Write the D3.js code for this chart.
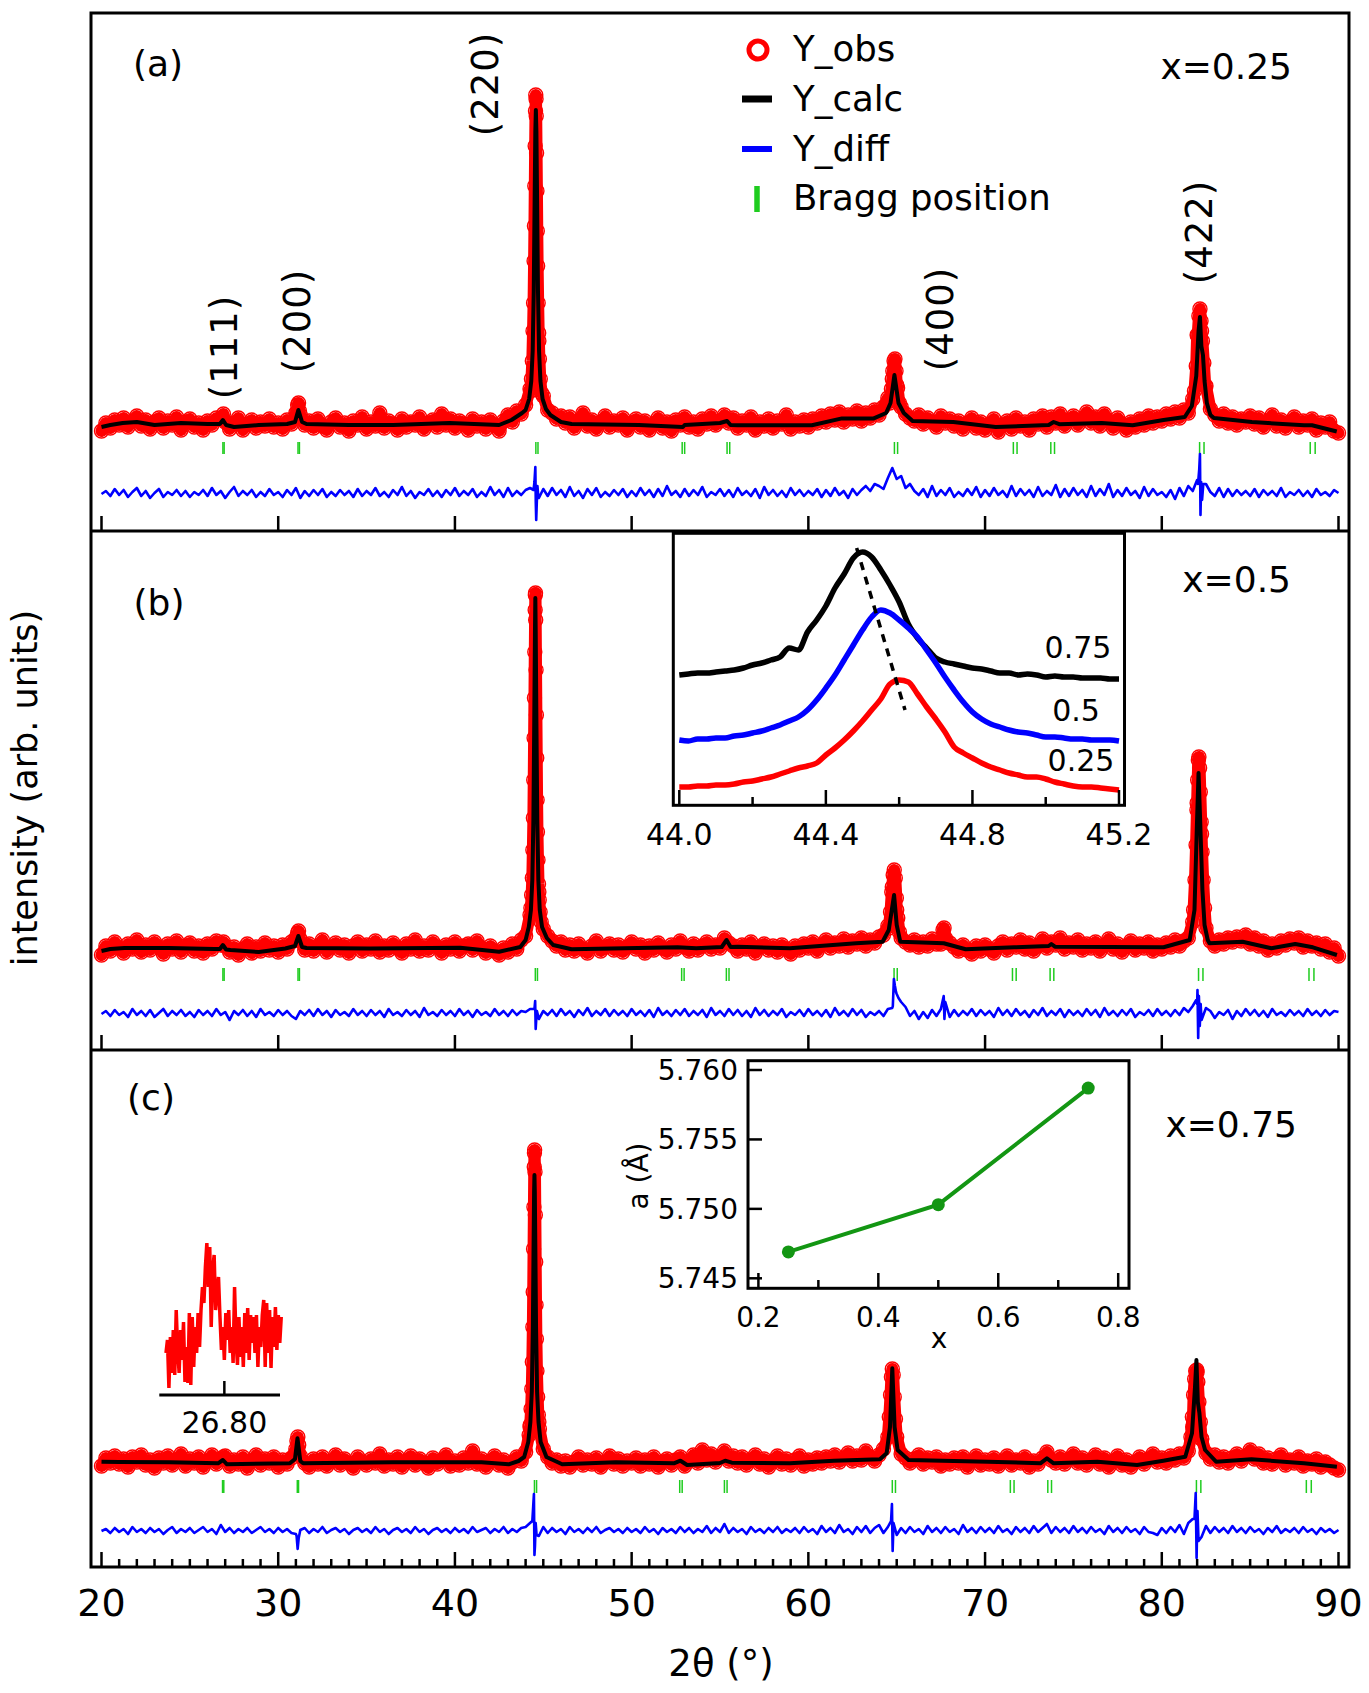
<!DOCTYPE html>
<html>
<head>
<meta charset="utf-8">
<script src="https://cdn.jsdelivr.net/npm/d3@7"></script>
<style>
body { margin: 0; background: #fff; }
text { font-family: "DejaVu Sans", sans-serif; fill: #000; }
</style>
</head>
<body>
<script>
// observed pattern, 2theta = 20 .. 90 every 0.25 deg (arb. units)
var obsStart = 20, obsStep = 0.25;
var obsA = [
100,108,103,111,106,113,104,110,115,105,111,102,109,113,103,110,106,114,101,109,
112,104,108,101,110,106,113,112,109,102,108,113,101,107,111,103,109,105,112,104,
108,102,111,107,118,116,106,110,103,112,105,101,109,113,104,108,100,110,106,114,
102,109,105,118,103,110,107,101,112,104,109,106,114,102,108,111,104,117,106,112,
103,110,107,101,112,105,109,102,111,106,100,110,116,109,120,117,126,142,305,190,
135,121,118,112,115,108,114,103,110,118,105,111,102,109,115,104,110,106,113,101,
108,112,104,110,101,107,113,103,109,100,111,106,114,104,109,102,112,107,115,106,
110,116,108,113,103,110,106,114,101,109,105,112,103,110,107,116,102,109,105,111,
104,112,108,115,109,117,111,119,109,116,112,120,110,118,113,121,116,124,133,152,
146,124,117,113,110,116,107,113,109,104,115,108,112,105,110,102,108,113,103,109,
101,107,112,99,106,110,102,113,105,109,101,112,107,115,104,114,108,117,105,111,
115,106,112,119,108,114,105,117,110,103,113,107,101,109,104,112,106,115,108,114,
110,117,112,119,113,121,118,132,196,200,145,122,116,110,117,108,114,106,112,109,
115,107,113,104,110,116,105,111,103,109,114,104,110,106,112,101,108,104,109,100,
98];
var obsB = [
95,104,99,108,102,97,106,101,110,98,105,100,108,103,96,106,101,109,98,104,
107,99,104,97,106,101,109,105,104,98,103,95,101,106,97,103,99,107,100,104,
98,105,101,108,112,110,100,106,99,104,110,98,103,107,100,105,97,104,108,99,
105,101,109,98,104,100,107,102,97,106,101,110,99,104,100,108,103,97,105,101,
108,99,104,106,100,109,102,97,104,99,95,102,98,106,101,110,114,140,352,158,
121,114,109,104,108,100,105,99,106,101,97,104,109,99,103,106,100,105,98,103,
108,101,105,97,104,100,107,102,98,105,101,109,103,99,106,100,104,108,101,105,
102,112,107,104,99,105,101,108,97,103,106,100,104,98,105,101,96,104,100,106,
102,108,99,105,110,102,107,104,111,103,109,106,112,104,110,107,113,115,124,163,
140,112,108,105,110,103,108,104,111,106,106,112,107,103,99,105,100,96,104,99,
105,101,97,104,108,100,106,103,110,101,107,99,104,111,102,108,105,112,101,107,
103,110,100,106,102,108,99,105,111,101,106,98,104,109,100,106,102,108,99,105,
101,107,103,110,104,109,112,128,247,216,122,109,104,110,106,112,108,113,109,115,
106,112,104,109,100,106,102,109,105,111,107,112,103,109,104,107,101,106,98,102,
94];
var obsC = [
101,109,104,111,103,108,100,110,105,112,102,107,99,109,104,111,102,107,113,101,
108,104,110,100,106,112,103,108,111,101,107,103,110,99,106,112,102,108,104,110,
100,107,103,109,118,111,104,100,108,103,110,101,106,112,102,108,104,99,110,105,
102,108,104,113,101,107,103,110,100,106,111,102,108,104,99,109,103,107,112,101,
106,102,109,104,116,103,108,100,106,111,102,107,99,105,110,106,115,140,414,145,
118,110,104,107,101,106,100,105,110,102,107,103,109,100,105,111,103,108,101,106,
104,109,101,107,103,110,100,105,108,102,107,110,101,106,112,104,117,107,113,105,
110,116,106,111,104,110,102,107,112,103,108,100,106,111,103,108,102,107,111,101,
107,103,109,104,110,106,112,105,109,114,106,111,107,116,110,106,112,118,130,198,
125,113,109,104,108,112,103,109,105,110,101,107,103,109,104,110,100,106,111,102,
107,103,109,101,106,111,102,107,104,110,100,106,103,109,115,107,104,110,103,108,
113,104,109,102,107,112,103,109,100,106,111,102,107,100,105,110,103,108,113,105,
109,104,111,107,113,109,116,140,195,128,114,108,112,105,110,104,109,113,106,111,
117,108,113,104,109,103,108,112,102,107,104,110,101,106,103,108,100,105,102,99,
97];

// observed points on the Bragg peaks [2theta, I]
var obsPeaksA = [[26.85,113],[26.9,117],[31.05,118],[31.1,126],[31.15,128],[31.2,120],
[44.28,140],[44.33,152],[44.38,170],[44.42,200],[44.45,228],[44.48,270],[44.5,305],[44.52,345],[44.54,385],[44.56,420],[44.575,436],
[44.59,432],[44.6,415],[44.62,378],[44.64,340],[44.66,300],[44.68,265],[44.71,228],[44.74,198],[44.78,172],[44.83,152],[44.9,138],
[64.6,128],[64.7,142],[64.78,160],[64.85,170],[64.9,172],[64.96,160],[65.05,143],[65.15,128],
[81.85,140],[81.95,165],[82.03,195],[82.1,215],[82.16,222],[82.22,210],[82.3,190],[82.38,168],[82.46,145]];
var obsPeaksB = [[26.85,106],[26.9,108],[31.05,110],[31.1,117],[31.15,119],[31.2,112],
[44.25,135],[44.3,142],[44.34,155],[44.38,172],[44.41,200],[44.44,232],[44.46,270],[44.48,312],[44.5,352],[44.52,398],[44.54,440],
[44.55,455],[44.56,457],[44.57,430],[44.59,380],[44.61,335],[44.63,292],[44.65,250],[44.67,218],[44.7,190],[44.73,166],[44.77,150],[44.82,138],[44.88,128],
[64.55,122],[64.65,138],[64.72,158],[64.8,175],[64.86,180],[64.92,172],[64.98,152],[65.06,132],[65.15,118],
[67.62,120],[67.68,122],
[81.8,140],[81.88,170],[81.94,205],[81.99,240],[82.03,270],[82.07,290],[82.1,293],[82.14,282],[82.18,258],[82.23,228],[82.28,198],[82.34,170],[82.42,142],[82.5,122]];
var obsPeaksC = [[26.85,108],[26.9,110],[31.0,118],[31.06,126],[31.11,130],[31.16,122],
[44.2,132],[44.26,142],[44.31,158],[44.35,178],[44.38,205],[44.41,240],[44.43,275],[44.45,318],[44.47,360],[44.49,400],[44.5,414],
[44.51,417],[44.53,395],[44.55,352],[44.57,305],[44.59,262],[44.61,228],[44.64,196],[44.68,170],[44.72,152],[44.78,138],
[64.5,130],[64.58,150],[64.65,172],[64.7,190],[64.75,198],[64.8,192],[64.86,170],[64.93,148],[65.0,130],
[81.65,130],[81.73,150],[81.8,172],[81.86,188],[81.92,196],[81.98,197],[82.04,185],[82.1,165],[82.18,145],[82.26,128]];

// calculated profile [2theta, I]
var calcA = [[20,104],[20.5,106],[21.2,108],[22,109],[23,106],[24.5,108],[26,107],[26.7,107],[26.87,111],[27.05,106],[27.5,104],
[28.9,106],[30.5,107],[30.95,109],[31.14,121],[31.35,109],[31.6,107],[34,106],[36.5,106],[39.7,108],[42.5,106],[43.2,111],[43.8,118],
[44,121],[44.2,132],[44.32,150],[44.4,180],[44.46,240],[44.51,330],[44.55,400],[44.58,421],[44.61,400],[44.65,330],[44.7,240],
[44.76,180],[44.84,150],[44.96,132],[45.15,122],[45.4,116],[46,109],[46.6,107],[50.4,106],[52.9,104],[53,106],[55,108],[55.4,110],
[55.6,106],[56,105.7],[60.2,105.7],[61.9,112.6],[63.7,112.6],[64.4,118],[64.65,128],[64.87,156],[65.1,128],[65.4,118],[65.9,110],
[68.2,109],[70.6,104],[73.6,106],[73.88,109],[74.2,106.8],[76.6,108],[78.35,105.7],[80.1,111],[81.3,114],[81.7,125],[81.95,155],
[82.08,200],[82.16,214],[82.24,185],[82.33,176],[82.42,150],[82.55,128],[82.75,116],[82.95,113],[85.1,109],[88.05,105.7],[88.5,105.7],[89.9,99.5]];
var calcB = [[20,99],[20.5,101],[21.3,102],[23.8,102],[26.4,101],[26.7,101],[26.87,105],[27.05,100.5],[27.3,100],[28.9,98],[30.4,101.5],
[30.95,104],[31.14,114],[31.35,103],[31.6,102],[35.2,101.5],[40.3,102.3],[42.5,98.3],[43.7,103],[44,110],[44.18,123],[44.3,140],
[44.38,170],[44.44,230],[44.49,330],[44.53,420],[44.55,452],[44.57,420],[44.61,330],[44.66,230],[44.72,170],[44.8,140],[44.93,123],
[45.2,112],[45.56,105],[46.6,100.7],[52.6,102.7],[53.65,101.7],[55.1,103],[55.37,110],[55.6,103],[56,103.3],[58.95,101.7],[62.7,106.7],
[64.2,108.3],[64.55,120],[64.85,155],[65,125],[65.2,108.3],[67.66,106.7],[68.9,100.7],[71.64,102.7],[73.6,104],[73.75,106],[73.95,103.3],
[80.1,102.7],[81.58,110],[81.85,140],[81.98,220],[82.08,277],[82.18,225],[82.3,160],[82.42,125],[82.6,110],[82.7,106.7],[84.57,108.3],
[86.2,101.7],[87.55,106],[88.55,102.7],[89.91,95]];
var calcC = [[20,105.3],[21,105],[23.84,104.7],[26.6,103.7],[26.87,107],[27.1,102.7],[30.66,103.7],[30.95,108],[31.09,128.7],[31.25,106],
[31.41,103.7],[36.5,104.7],[41.5,104.7],[43.04,102.7],[43.6,106],[43.92,110],[44.15,125],[44.27,145],[44.35,175],[44.41,240],[44.45,320],
[44.48,375],[44.5,392],[44.52,375],[44.55,320],[44.59,240],[44.65,175],[44.73,145],[44.85,125],[45.18,110],[46.07,102.7],[49.1,104.7],
[52.39,103.7],[52.76,106.3],[53.14,102],[55,104],[55.29,106.3],[55.67,104.3],[58.95,103.7],[61.44,106.3],[64.05,107.7],[64.43,113.7],
[64.62,140],[64.75,198.7],[64.88,140],[65.05,117],[65.67,107],[70.15,105.3],[73.13,103.7],[73.5,108.7],[73.88,103.7],[76.36,105.3],
[78.6,102],[80.09,106.3],[81.33,110.3],[81.71,133.7],[81.88,180],[81.96,207],[82.04,165],[82.13,153.7],[82.25,130],[82.45,117],
[83.07,105.3],[85.07,107.7],[88.05,103.7],[89.91,100.3]];

// difference Yobs - Ycalc, same 0.25 deg grid
var diffA = [
0,3,-2,5,-1,4,-3,2,6,-2,3,-4,1,5,-3,2,-1,4,-2,3,
-3,2,-1,4,-2,6,-1,3,-4,2,7,-2,3,-1,4,-3,2,-2,5,-1,
2,-3,4,-1,6,-4,3,-2,4,-1,5,-3,2,-2,4,-1,3,-3,5,-2,
3,-1,6,-2,2,-3,4,-1,7,-2,3,-4,2,-1,5,-2,3,-3,4,-1,
6,-2,3,-1,5,-3,2,-2,7,-1,4,-3,6,-2,3,-1,4,6,2,-4,
5,-2,6,-1,4,-3,7,-2,3,-4,5,-1,6,-3,2,-2,4,-1,5,-3,
3,-2,6,-1,4,-3,5,-2,8,-1,3,-3,5,-2,4,-1,7,-3,2,-1,
5,-2,4,-3,6,-1,3,-2,5,-4,7,-1,4,-2,3,-3,6,-1,4,-2,
3,-1,5,-3,4,-2,6,-1,3,-4,5,-1,4,8,3,10,8,5,16,26,
15,18,6,10,3,-1,5,-3,8,-2,4,-1,6,-3,2,-2,5,-1,7,-3,
4,-2,6,-1,3,-3,8,-2,5,-1,4,-3,7,-2,3,-1,9,-3,5,-2,
6,-1,4,-3,8,-2,5,-1,10,-3,4,-2,6,-1,3,-4,7,-2,5,-1,
2,-3,4,-5,6,-2,8,3,14,6,10,2,-2,6,-3,5,-2,4,-1,3,
-2,5,-3,4,-1,3,-2,6,-3,2,-1,4,-2,3,-3,5,-1,2,-2,4,
1];
var diffB = [
0,3,-2,4,-1,2,-3,5,-1,3,-2,4,-3,1,5,-2,3,-1,4,-2,
2,-3,4,-1,3,-2,5,-1,2,-6,3,-1,4,-2,3,-3,5,-1,2,-2,
4,-1,3,-2,-5,3,-1,4,-2,5,-1,3,-3,4,-1,2,-2,5,-1,3,
-2,4,-1,3,-3,5,-1,2,-2,4,-1,3,-3,6,-1,2,-2,4,-1,3,
-2,5,-1,3,-3,4,-1,2,-2,5,-1,3,-2,4,-1,3,2,5,-3,-5,
3,-1,4,-2,5,-1,3,-3,4,-1,6,-2,3,-1,5,-2,4,-1,3,-2,
5,-1,3,-2,4,-3,6,-1,3,-2,4,-1,5,-2,3,-1,4,-3,6,-1,
3,-2,5,-1,4,-2,3,-3,6,-1,4,-2,3,-1,5,-3,2,-1,4,-2,
5,-1,3,-2,4,-3,6,-1,3,-2,5,-1,4,-3,2,-1,3,-2,5,6,
20,12,7,-2,3,-5,2,-4,4,-2,5,12,-3,4,-2,3,-1,5,-2,4,
-1,3,-3,6,-1,4,-2,5,-1,3,-3,4,-1,6,-2,3,-1,5,-3,4,
-1,3,-2,5,-1,4,-3,6,-1,3,-2,4,-1,5,-3,2,-1,4,-2,5,
-1,3,-2,4,-1,6,2,8,10,-6,6,3,-4,2,-1,4,-5,3,-2,5,
-1,4,-2,3,-3,5,-1,2,-2,4,-1,3,-2,5,-1,3,-2,4,-1,3,
2];
var diffC = [
0,2,-2,3,-1,2,-3,4,-1,2,-2,3,-1,2,-3,1,4,-2,2,-1,
3,-2,1,4,-1,2,-3,6,-1,3,-2,2,-1,3,-2,1,4,-1,2,-2,
3,-1,2,-2,-3,1,3,-2,2,-1,4,-2,1,3,-1,2,-3,1,3,-1,
2,-2,4,-1,2,-3,1,3,-1,2,-2,4,-1,2,-3,1,3,-1,2,-2,
3,-1,2,-2,4,-1,1,3,-2,2,-1,4,-2,2,-1,3,4,8,2,-5,
4,-2,3,-1,2,-3,4,-1,2,-2,3,-1,4,-2,1,3,-1,2,-2,3,
-1,2,-2,4,-1,2,-3,3,-1,2,-2,4,-1,3,-2,2,-1,5,-2,3,
-1,7,-2,3,-1,2,-3,4,-1,2,-2,3,-1,4,-2,2,-1,3,-2,4,
-1,2,-3,5,-1,3,-2,6,-1,2,-3,4,-1,5,-2,3,6,-2,4,2,
-4,3,-2,4,-1,2,-3,5,-1,3,-2,4,-1,2,-3,6,-1,3,-2,4,
-1,3,-2,5,-1,2,-3,4,-1,3,-2,5,-1,3,7,-2,4,-1,3,-2,
5,-1,3,-2,4,-1,2,-3,5,-1,3,-2,4,-1,2,-3,4,-1,-2,-4,
3,-2,4,-1,6,-3,8,12,4,-6,5,-2,4,-1,3,-2,5,-1,3,-2,
4,-1,2,-3,3,-1,5,-2,2,-1,3,-2,4,-1,2,-3,3,-1,2,-2,
1];
var diffPeaksA = [[44.45,4],[44.5,12],[44.55,27],[44.575,-8],[44.6,-26],[44.63,-10],[44.67,8],[44.72,-3],
[82.05,10],[82.12,25],[82.16,40],[82.19,-21],[82.23,12],[82.28,-6],[82.35,10]];
var diffPeaksB = [[44.5,5],[44.54,13],[44.57,-15],[44.6,-6],[44.64,3],[64.78,8],[64.84,35],[64.9,28],[64.96,22],[65.1,16],
[67.66,18],[67.7,-5],[81.95,14],[82.02,24],[82.06,-24],[82.1,18],[82.15,-12],[82.2,10]];
var diffPeaksC = [[31.04,-5],[31.1,-18],[31.16,-7],[44.38,10],[44.43,25],[44.47,37],[44.5,-24],[44.53,-15],[44.57,8],[44.62,-4],
[64.68,10],[64.73,27],[64.77,-20],[64.82,8],[81.85,12],[81.92,38],[81.97,-27],[82.02,20],[82.08,-10]];

// Bragg positions (K-alpha1 / K-alpha2)
var braggA = [26.87,26.94,31.12,31.20,44.58,44.70,52.86,53.00,55.40,55.55,64.87,65.05,71.60,71.81,73.72,73.93,82.14,82.39,88.40,88.68];
var braggB = [26.87,26.94,31.12,31.20,44.55,44.67,52.83,52.97,55.36,55.51,64.85,65.03,71.55,71.76,73.68,73.89,82.08,82.33,88.33,88.61];
var braggC = [26.85,26.92,31.08,31.15,44.50,44.62,52.72,52.86,55.25,55.40,64.75,64.93,71.43,71.64,73.55,73.76,81.96,82.21,88.18,88.46];

var panelLabels = ["(a)", "(b)", "(c)"];
var compLabels = ["x=0.25", "x=0.5", "x=0.75"];
var legendLabels = ["Y_obs", "Y_calc", "Y_diff", "Bragg position"];
var hklLabels = ["(111)", "(200)", "(220)", "(400)", "(422)"];
var xTicks = [20, 30, 40, 50, 60, 70, 80, 90];

// (220) inset, 44.0 .. 45.2 every 0.025 deg
var insStart = 44.0, insStep = 0.025;
var ins075 = [130,131,132,132,133,134,135,137,140,142,145,148,157,155,173,185,199,217,231,247,
253,248,235,220,203,181,167,157,147,143,141,139,137,136,134,132,132,130,131,130,128,129,128,128,127,127,127,126,126];
var ins050 = [65,64,66,66,67,67,69,70,72,74,77,80,84,88,95,105,117,130,145,160,
175,188,195,192,185,177,168,155,142,128,115,103,93,86,81,78,75,73,72,70,68,68,67,66,66,65,65,65,64];
var ins025 = [18,18,19,19,20,20,21,23,24,26,28,31,34,37,39,42,50,57,65,74,
84,95,106,121,125,123,111,98,86,73,58,52,47,42,38,35,32,30,28,28,26,23,21,19,18,18,17,16,15];
var insLabels = ["0.75", "0.5", "0.25"];
var insTicks = [44.0, 44.2, 44.4, 44.6, 44.8, 45.0, 45.2];
var shiftX = [44.484, 44.616], shiftY = [257, 95];

// lattice parameter inset
var latX = [0.25, 0.5, 0.75];
var latA = [5.7469, 5.7503, 5.7587];
var latErr = [0.0001, 0.0004, 0.0002];
var latXTicks = [0.2, 0.3, 0.4, 0.5, 0.6, 0.7, 0.8];
var latYTicks = [5.745, 5.750, 5.755, 5.760];

// weak (111) reflection, x=0.75
var smStart = 26.56, smStep = 0.006;
var smRed = [42,55,7,58,22,65,20,85,45,22,65,35,73,13,48,12,82,10,78,28,68,42,82,48,85,108,92,128,152,108,
148,68,125,140,85,102,118,78,45,68,35,82,55,85,42,68,32,108,55,30,78,38,68,28,82,42,87,35,80,52,
78,42,80,28,68,48,80,95,28,92,42,85,27,78,48,88,45,80,52,78];

var svg = d3.select("body").append("svg")
    .attr("width", 1369)
    .attr("height", 1693);

var frameL = 91, frameR = 1349;
var tops = [13, 531, 1050], bots = [531, 1050, 1567];
var x = d3.scaleLinear().domain([20, 90]).range([101.5, 1338.5]);

function merged(vals, start, step, extra) {
    var m = new Map();
    vals.forEach(function(v, i) {
        var t = start + i * step;
        m.set(t.toFixed(3), [t, v]);
    });
    extra.forEach(function(p) { m.set(p[0].toFixed(3), p); });
    return Array.from(m.values()).sort(function(a, b) { return a[0] - b[0]; });
}

var panels = [
    {obs: obsA, obsPk: obsPeaksA, calc: calcA, diff: diffA, diffPk: diffPeaksA, bragg: braggA, off: 37, bl: [77, 89]},
    {obs: obsB, obsPk: obsPeaksB, calc: calcB, diff: diffB, diffPk: diffPeaksB, bragg: braggB, off: 36, bl: [69, 82]},
    {obs: obsC, obsPk: obsPeaksC, calc: calcC, diff: diffC, diffPk: diffPeaksC, bragg: braggC, off: 36, bl: [74, 87]}
];

panels.forEach(function(p, k) {
    var y = d3.scaleLinear().domain([0, 518]).range([bots[k], bots[k] - 518]);
    var line = d3.line()
        .x(function(d) { return x(d[0]); })
        .y(function(d) { return y(d[1]); });
    var g = svg.append("g");
    var obsPts = merged(p.obs, obsStart, obsStep, p.obsPk);

    g.append("path").datum(obsPts)
        .attr("d", line)
        .attr("fill", "none")
        .attr("stroke", "#ff0000")
        .attr("stroke-width", 12)
        .attr("stroke-linejoin", "round")
        .attr("stroke-linecap", "round");
    g.selectAll("circle.obs")
        .data(obsPts)
        .enter().append("circle")
        .attr("class", "obs")
        .attr("cx", function(d) { return x(d[0]); })
        .attr("cy", function(d) { return y(d[1]); })
        .attr("r", 7)
        .attr("fill", "none")
        .attr("stroke", "#ff0000")
        .attr("stroke-width", 1.4);

    g.append("path").datum(p.calc)
        .attr("d", line)
        .attr("fill", "none")
        .attr("stroke", "#000")
        .attr("stroke-width", 4)
        .attr("stroke-linejoin", "round");

    g.selectAll("line.bragg")
        .data(p.bragg)
        .enter().append("line")
        .attr("class", "bragg")
        .attr("x1", function(d) { return x(d); })
        .attr("x2", function(d) { return x(d); })
        .attr("y1", y(p.bl[0]))
        .attr("y2", y(p.bl[1]))
        .attr("stroke", "#1fcc1f")
        .attr("stroke-width", 1.5);

    var diffPts = merged(p.diff, obsStart, obsStep, p.diffPk);
    g.append("path").datum(diffPts)
        .attr("d", d3.line()
            .x(function(d) { return x(d[0]); })
            .y(function(d) { return y(d[1] + p.off); }))
        .attr("fill", "none")
        .attr("stroke", "#0000ff")
        .attr("stroke-width", 2.6)
        .attr("stroke-linejoin", "round");

    // bottom axis ticks, pointing up
    var minor = k == 2 ? d3.range(21, 90) : [];
    g.selectAll("line.minor")
        .data(minor.filter(function(d) { return d % 10 != 0; }))
        .enter().append("line")
        .attr("class", "minor")
        .attr("x1", function(d) { return x(d); })
        .attr("x2", function(d) { return x(d); })
        .attr("y1", bots[k])
        .attr("y2", bots[k] - 8)
        .attr("stroke", "#000")
        .attr("stroke-width", 2.5);
    g.selectAll("line.major")
        .data(xTicks)
        .enter().append("line")
        .attr("class", "major")
        .attr("x1", function(d) { return x(d); })
        .attr("x2", function(d) { return x(d); })
        .attr("y1", bots[k])
        .attr("y2", bots[k] - 15)
        .attr("stroke", "#000")
        .attr("stroke-width", 2.5);

    svg.append("text")
        .attr("x", [158, 159, 151][k])
        .attr("y", [76, 615, 1110][k])
        .attr("text-anchor", "middle")
        .attr("font-size", 36)
        .text(panelLabels[k]);
    svg.append("text")
        .attr("x", [1292, 1291, 1297][k])
        .attr("y", [79, 592, 1137][k])
        .attr("text-anchor", "end")
        .attr("font-size", 36)
        .text(compLabels[k]);
});

// frame and panel dividers
svg.append("rect")
    .attr("x", frameL).attr("y", tops[0])
    .attr("width", frameR - frameL).attr("height", bots[2] - tops[0])
    .attr("fill", "none").attr("stroke", "#000").attr("stroke-width", 3);
[531, 1050].forEach(function(yy) {
    svg.append("line")
        .attr("x1", frameL).attr("x2", frameR)
        .attr("y1", yy).attr("y2", yy)
        .attr("stroke", "#000").attr("stroke-width", 3);
});

// hkl labels, panel (a)
var hklPos = [[237, 347], [310, 321], [498, 84], [953, 319], [1212, 232]];
hklLabels.forEach(function(h, i) {
    svg.append("text")
        .attr("transform", "translate(" + hklPos[i][0] + "," + hklPos[i][1] + ") rotate(-90)")
        .attr("text-anchor", "middle")
        .attr("font-size", 37)
        .attr("letter-spacing", 1)
        .text(h);
});

// legend
var lg = svg.append("g");
lg.append("circle").attr("cx", 758).attr("cy", 50).attr("r", 9)
    .attr("fill", "none").attr("stroke", "#ff0000").attr("stroke-width", 5);
lg.append("line").attr("x1", 742).attr("x2", 772).attr("y1", 99).attr("y2", 99)
    .attr("stroke", "#000").attr("stroke-width", 7);
lg.append("line").attr("x1", 742).attr("x2", 772).attr("y1", 149).attr("y2", 149)
    .attr("stroke", "#0000ff").attr("stroke-width", 6);
lg.append("line").attr("x1", 757).attr("x2", 757).attr("y1", 186).attr("y2", 212)
    .attr("stroke", "#1fcc1f").attr("stroke-width", 5.5);
lg.selectAll("text")
    .data(legendLabels)
    .enter().append("text")
    .attr("x", 793)
    .attr("y", function(d, i) { return [61, 111, 161, 210][i]; })
    .attr("font-size", 35.5)
    .text(function(d) { return d; });

// bottom tick labels and titles
svg.selectAll("text.xt")
    .data(xTicks)
    .enter().append("text")
    .attr("class", "xt")
    .attr("x", function(d) { return x(d); })
    .attr("y", 1616)
    .attr("text-anchor", "middle")
    .attr("font-size", 38)
    .text(function(d) { return d; });
svg.append("text")
    .attr("x", 721).attr("y", 1676)
    .attr("text-anchor", "middle")
    .attr("font-size", 37)
    .text("2\u03b8 (\u00b0)");
svg.append("text")
    .attr("transform", "translate(37,788) rotate(-90)")
    .attr("text-anchor", "middle")
    .attr("font-size", 35)
    .text("intensity (arb. units)");

// (220) peak shift inset
var xi = d3.scaleLinear().domain([44.0, 45.2]).range([679.3, 1119]);
var yi = d3.scaleLinear().domain([0, 272]).range([805, 533]);
var gi = svg.append("g");
gi.append("rect").attr("x", 673.3).attr("y", 533.3).attr("width", 451.2).attr("height", 272)
    .attr("fill", "#fff").attr("stroke", "#000").attr("stroke-width", 3);
var insLine = d3.line()
    .x(function(d, i) { return xi(insStart + i * insStep); })
    .y(function(d) { return yi(d); })
    .curve(d3.curveMonotoneX);
[[ins075, "#000"], [ins050, "#0000ff"], [ins025, "#ff0000"]].forEach(function(c) {
    gi.append("path").datum(c[0])
        .attr("d", insLine)
        .attr("fill", "none")
        .attr("stroke", c[1])
        .attr("stroke-width", 5.5)
        .attr("stroke-linejoin", "round");
});
gi.append("line")
    .attr("x1", xi(shiftX[0])).attr("y1", yi(shiftY[0]))
    .attr("x2", xi(shiftX[1])).attr("y2", yi(shiftY[1]))
    .attr("stroke", "#000").attr("stroke-width", 3.5)
    .attr("stroke-dasharray", "8,7");
gi.selectAll("line.it")
    .data(insTicks)
    .enter().append("line")
    .attr("class", "it")
    .attr("x1", function(d) { return xi(d); })
    .attr("x2", function(d) { return xi(d); })
    .attr("y1", 805)
    .attr("y2", function(d, i) { return i % 2 == 0 ? 790 : 797; })
    .attr("stroke", "#000").attr("stroke-width", 2.5);
gi.selectAll("text.itl")
    .data(insTicks.filter(function(d, i) { return i % 2 == 0; }))
    .enter().append("text")
    .attr("class", "itl")
    .attr("x", function(d) { return xi(d); })
    .attr("y", 845)
    .attr("text-anchor", "middle")
    .attr("font-size", 30)
    .text(function(d) { return d.toFixed(1); });
gi.selectAll("text.il")
    .data(insLabels)
    .enter().append("text")
    .attr("class", "il")
    .attr("x", function(d, i) { return [1078, 1076, 1081][i]; })
    .attr("y", function(d, i) { return [658, 721, 771][i]; })
    .attr("text-anchor", "middle")
    .attr("font-size", 30)
    .text(function(d) { return d; });

// lattice parameter inset
var xl = d3.scaleLinear().domain([0.2, 0.8]).range([758.4, 1118.2]);
var yl = d3.scaleLinear().domain([5.745, 5.760]).range([1278.3, 1070]);
var gl = svg.append("g");
gl.append("rect").attr("x", 748).attr("y", 1060.7).attr("width", 381).attr("height", 227.6)
    .attr("fill", "#fff").attr("stroke", "#000").attr("stroke-width", 3);
gl.selectAll("line.lx")
    .data(latXTicks)
    .enter().append("line")
    .attr("class", "lx")
    .attr("x1", function(d) { return xl(d); })
    .attr("x2", function(d) { return xl(d); })
    .attr("y1", 1288.3)
    .attr("y2", function(d, i) { return i % 2 == 0 ? 1273 : 1280; })
    .attr("stroke", "#000").attr("stroke-width", 2.5);
gl.selectAll("line.ly")
    .data(latYTicks)
    .enter().append("line")
    .attr("class", "ly")
    .attr("x1", 748).attr("x2", 762)
    .attr("y1", function(d) { return yl(d); })
    .attr("y2", function(d) { return yl(d); })
    .attr("stroke", "#000").attr("stroke-width", 2.5);
gl.selectAll("text.lxl")
    .data(latXTicks.filter(function(d, i) { return i % 2 == 0; }))
    .enter().append("text")
    .attr("class", "lxl")
    .attr("x", function(d) { return xl(d); })
    .attr("y", 1327)
    .attr("text-anchor", "middle")
    .attr("font-size", 28)
    .text(function(d) { return d.toFixed(1); });
gl.selectAll("text.lyl")
    .data(latYTicks)
    .enter().append("text")
    .attr("class", "lyl")
    .attr("x", 738)
    .attr("y", function(d) { return yl(d) + 10; })
    .attr("text-anchor", "end")
    .attr("font-size", 28)
    .text(function(d) { return d.toFixed(3); });
gl.append("text").attr("x", 939).attr("y", 1348).attr("text-anchor", "middle")
    .attr("font-size", 28).text("x");
gl.append("text").attr("transform", "translate(648,1176) rotate(-90)")
    .attr("text-anchor", "middle").attr("font-size", 28).text("a (\u00c5)");
var latPts = latX.map(function(d, i) { return [d, latA[i], latErr[i]]; });
gl.append("path").datum(latPts)
    .attr("d", d3.line()
        .x(function(d) { return xl(d[0]); })
        .y(function(d) { return yl(d[1]); }))
    .attr("fill", "none").attr("stroke", "#139613").attr("stroke-width", 4);
gl.selectAll("line.err")
    .data(latPts)
    .enter().append("line")
    .attr("class", "err")
    .attr("x1", function(d) { return xl(d[0]); })
    .attr("x2", function(d) { return xl(d[0]); })
    .attr("y1", function(d) { return yl(d[1] - d[2]); })
    .attr("y2", function(d) { return yl(d[1] + d[2]); })
    .attr("stroke", "#139613").attr("stroke-width", 2);
gl.selectAll("circle")
    .data(latPts)
    .enter().append("circle")
    .attr("cx", function(d) { return xl(d[0]); })
    .attr("cy", function(d) { return yl(d[1]); })
    .attr("r", 6.5)
    .attr("fill", "#139613");

// weak (111) close-up
var xs = d3.scaleLinear().domain([26.56, 27.04]).range([166, 282.7]);
var ys = d3.scaleLinear().domain([0, 150]).range([1395, 1245]);
svg.append("path").datum(smRed)
    .attr("d", d3.line()
        .x(function(d, i) { return xs(smStart + i * smStep); })
        .y(function(d) { return ys(d); }))
    .attr("fill", "none").attr("stroke", "#ff0000").attr("stroke-width", 3.5);
svg.append("line").attr("x1", 159.3).attr("x2", 280).attr("y1", 1395).attr("y2", 1395)
    .attr("stroke", "#000").attr("stroke-width", 3);
svg.append("line").attr("x1", xs(26.8)).attr("x2", xs(26.8)).attr("y1", 1395).attr("y2", 1381)
    .attr("stroke", "#000").attr("stroke-width", 2.5);
svg.append("text").attr("x", xs(26.8)).attr("y", 1433).attr("text-anchor", "middle")
    .attr("font-size", 30).text("26.80");
</script>
</body>
</html>
